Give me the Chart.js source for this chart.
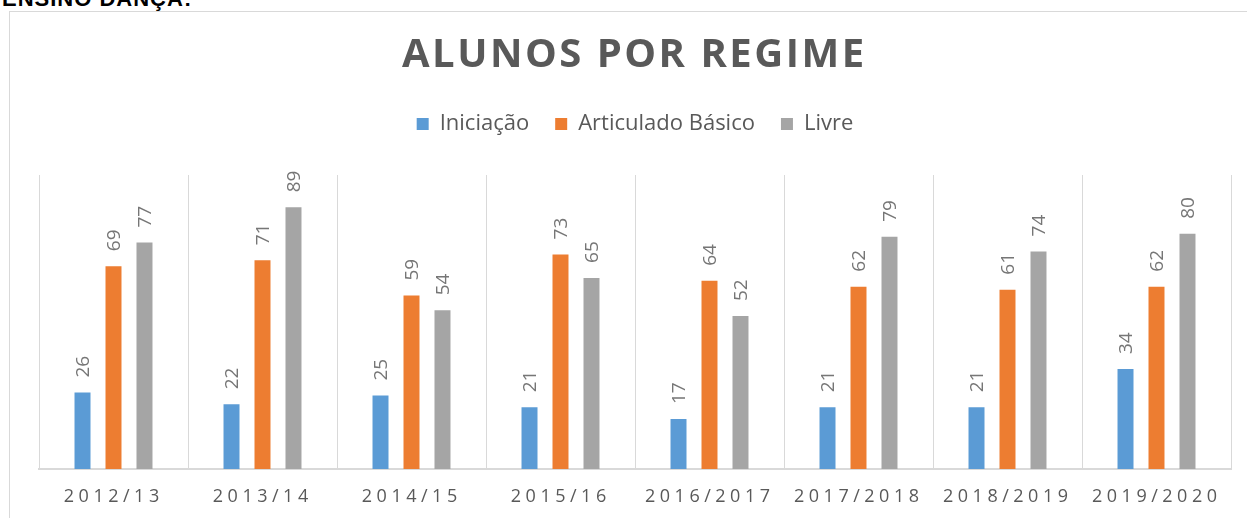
<!DOCTYPE html>
<html>
<head>
<meta charset="utf-8">
<script src="https://cdn.jsdelivr.net/npm/chart.js@4.4.0/dist/chart.umd.min.js"></script>
<style>
  html, body { margin: 0; padding: 0; overflow: hidden; background: #fff; width: 1247px; height: 518px; }
  #topText { position: absolute; left: 2px; top: -14px; font: bold 22px "Liberation Sans", Arial, sans-serif; color: #000; letter-spacing: 1px; }
  #box { position: absolute; left: 9px; top: 11px; width: 1246px; height: 520px; border: 1px solid #d9d9d9; }
  #wrap { position: absolute; left: 0; top: 0; width: 1246px; height: 506px; }
</style>
</head>
<body>
<div id="topText">ENSINO DANÇA:</div>
<div id="box"><div id="wrap"><canvas id="chart"></canvas></div></div>
<script>
const titleText = 'ALUNOS POR REGIME';
const anos = ['2012/13', '2013/14', '2014/15', '2015/16', '2016/2017', '2017/2018', '2018/2019', '2019/2020'];
const iniciacao = [26, 22, 25, 21, 17, 21, 21, 34];
const articulado = [69, 71, 59, 73, 64, 62, 61, 62];
const livre = [77, 89, 54, 65, 52, 79, 74, 80];

const fontName = '"Open Sans", sans-serif';

// titulo, rotulos do eixo e valores desenhados a mao (espacamento entre letras)
const textPlugin = {
  id: 'textos',
  afterDraw(chart) {
    const ctx = chart.ctx;
    ctx.save();
    ctx.fillStyle = '#595959';
    ctx.font = 'bold 40px ' + fontName;
    ctx.letterSpacing = '2.5px';
    ctx.textBaseline = 'middle';
    ctx.textAlign = 'left';
    let w = ctx.measureText(titleText).width - 2.5;
    ctx.fillText(titleText, chart.width / 2 - w / 2, 44);

    ctx.font = '18px ' + fontName;
    ctx.letterSpacing = '4.5px';
    ctx.fillStyle = '#595959';
    const xs = chart.scales.x;
    anos.forEach((a, i) => {
      const wl = ctx.measureText(a).width - 4.5;
      ctx.fillText(a, xs.getPixelForValue(i) - wl / 2 - 2, 485);
    });

    ctx.letterSpacing = '0px';
    ctx.font = '19px ' + fontName;
    ctx.fillStyle = '#767676';
    chart.data.datasets.forEach((ds, di) => {
      chart.getDatasetMeta(di).data.forEach((bar, j) => {
        ctx.save();
        ctx.translate(bar.x + 1, bar.y - 15);
        ctx.rotate(-Math.PI / 2);
        ctx.textAlign = 'left';
        ctx.textBaseline = 'middle';
        ctx.fillText(String(ds.data[j]), 0, 0);
        ctx.restore();
      });
    });
    ctx.restore();
  }
};

new Chart(document.getElementById('chart'), {
  type: 'bar',
  data: {
    labels: anos,
    datasets: [
      { label: 'Iniciação', data: iniciacao, backgroundColor: '#5b9bd5' },
      { label: 'Articulado Básico', data: articulado, backgroundColor: '#ed7d31' },
      { label: 'Livre', data: livre, backgroundColor: '#a5a5a5' }
    ]
  },
  options: {
    responsive: true,
    maintainAspectRatio: false,
    animation: false,
    categoryPercentage: 0.624,
    barPercentage: 0.516,
    layout: { padding: { top: 75, left: 29, right: 25, bottom: 49 } },
    plugins: {
      title: { display: false },
      subtitle: {
        // espaco entre a legenda e a area do grafico
        display: true,
        text: '',
        weight: 500,
        font: { size: 2, lineHeight: 1 },
        padding: 14
      },
      tooltip: { enabled: false },
      legend: {
        position: 'top',
        labels: {
          boxWidth: 12,
          boxHeight: 12,
          padding: 26,
          color: '#595959',
          font: { family: fontName, size: 22 }
        }
      }
    },
    scales: {
      x: {
        grid: { offset: true, color: '#d9d9d9', drawTicks: false },
        border: { color: '#d9d9d9', width: 2 },
        ticks: { display: false }
      },
      y: {
        display: false,
        min: 0,
        max: 100
      }
    }
  },
  plugins: [textPlugin]
});
</script>
</body>
</html>
